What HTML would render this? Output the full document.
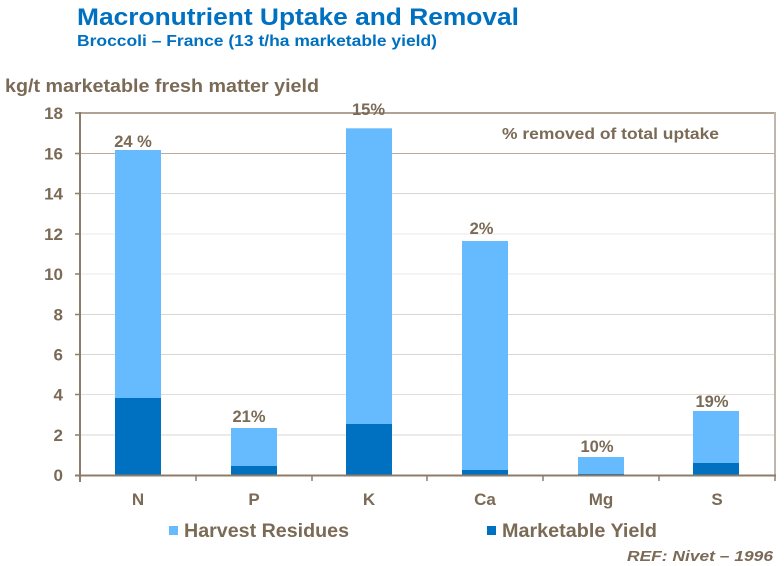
<!DOCTYPE html>
<html><head><meta charset="utf-8"><style>
html,body{margin:0;padding:0;background:#fff;}
svg{display:block;font-family:"Liberation Sans",Arial,sans-serif;}
</style></head><body>
<svg width="784" height="566" viewBox="0 0 784 566" xmlns="http://www.w3.org/2000/svg">
<!-- titles -->
<text x="77" y="25" font-size="24" font-weight="bold" fill="#0070c0" textLength="442" lengthAdjust="spacingAndGlyphs">Macronutrient Uptake and Removal</text>
<text x="77" y="46" font-size="16" font-weight="bold" fill="#0070c0" textLength="360" lengthAdjust="spacingAndGlyphs">Broccoli – France (13 t/ha marketable yield)</text>
<text x="5" y="92" font-size="18" font-weight="bold" fill="#7a6a56" textLength="314" lengthAdjust="spacingAndGlyphs">kg/t marketable fresh matter yield</text>

<!-- gridlines -->
<g stroke="#dcd6d0" stroke-width="1">
<line x1="80" y1="153.5" x2="775" y2="153.5" stroke="#b8ab9e"/>
<line x1="80" y1="193.5" x2="775" y2="193.5"/>
<line x1="80" y1="234" x2="775" y2="234" stroke="#ece8e4"/>
<line x1="80" y1="274" x2="775" y2="274" stroke="#ece8e4"/>
<line x1="80" y1="314.5" x2="775" y2="314.5"/>
<line x1="80" y1="354.5" x2="775" y2="354.5"/>
<line x1="80" y1="394.5" x2="775" y2="394.5" stroke="#e4dfda"/>
<line x1="80" y1="435" x2="775" y2="435"/>
</g>
<!-- frame -->
<line x1="80" y1="113" x2="775" y2="113" stroke="#b0a396" stroke-width="2"/>
<line x1="775" y1="112" x2="775" y2="476" stroke="#c0b6ac" stroke-width="2"/>

<!-- bars -->
<g fill="#66bbff">
<rect x="115" y="150" width="46" height="325"/>
<rect x="231" y="428" width="46" height="47"/>
<rect x="346" y="128.3" width="46" height="346.7"/>
<rect x="462" y="241" width="46" height="234"/>
<rect x="578" y="457" width="46" height="18"/>
<rect x="693" y="411" width="46" height="64"/>
</g>
<g fill="#0070c0">
<rect x="115" y="398" width="46" height="77"/>
<rect x="231" y="466" width="46" height="9"/>
<rect x="346" y="424" width="46" height="51"/>
<rect x="462" y="470" width="46" height="5"/>
<rect x="578" y="474" width="46" height="1"/>
<rect x="693" y="463" width="46" height="12"/>
</g>

<!-- axes -->
<line x1="80" y1="112" x2="80" y2="482" stroke="#8c7c6a" stroke-width="2"/>
<line x1="75" y1="475.5" x2="776" y2="475.5" stroke="#8c7c6a" stroke-width="2"/>
<g stroke="#8c7c6a" stroke-width="1.5">
<line x1="75" y1="113" x2="80" y2="113"/>
<line x1="75" y1="153.5" x2="80" y2="153.5"/>
<line x1="75" y1="193.5" x2="80" y2="193.5"/>
<line x1="75" y1="234" x2="80" y2="234"/>
<line x1="75" y1="274" x2="80" y2="274"/>
<line x1="75" y1="314.5" x2="80" y2="314.5"/>
<line x1="75" y1="354.5" x2="80" y2="354.5"/>
<line x1="75" y1="394.5" x2="80" y2="394.5"/>
<line x1="75" y1="435" x2="80" y2="435"/>
<line x1="196" y1="475" x2="196" y2="481"/>
<line x1="312" y1="475" x2="312" y2="481"/>
<line x1="427" y1="475" x2="427" y2="481"/>
<line x1="543" y1="475" x2="543" y2="481"/>
<line x1="659" y1="475" x2="659" y2="481"/>
<line x1="775" y1="475" x2="775" y2="481"/>
</g>

<!-- y tick labels -->
<g font-size="17" font-weight="bold" fill="#7a6a56" text-anchor="end">
<text x="63" y="119">18</text>
<text x="63" y="159.5">16</text>
<text x="63" y="199.5">14</text>
<text x="63" y="240">12</text>
<text x="63" y="280">10</text>
<text x="63" y="320.5">8</text>
<text x="63" y="360.5">6</text>
<text x="63" y="400.5">4</text>
<text x="63" y="441">2</text>
<text x="63" y="481">0</text>
</g>

<!-- category labels -->
<g font-size="17" font-weight="bold" fill="#7a6a56" text-anchor="middle">
<text x="138" y="505">N</text>
<text x="254" y="505">P</text>
<text x="369" y="505">K</text>
<text x="485" y="505">Ca</text>
<text x="601" y="505">Mg</text>
<text x="717" y="505">S</text>
</g>

<!-- percent labels -->
<g font-size="16.5" font-weight="bold" fill="#7a6a56" text-anchor="middle">
<text x="133" y="147">24 %</text>
<text x="249" y="422">21%</text>
<text x="368.5" y="115">15%</text>
<text x="481.5" y="234">2%</text>
<text x="597" y="452">10%</text>
<text x="712" y="407">19%</text>
</g>
<text x="502" y="139" font-size="15.5" font-weight="bold" fill="#7a6a56" textLength="217" lengthAdjust="spacingAndGlyphs">% removed of total uptake</text>

<!-- legend -->
<rect x="169" y="526" width="9" height="9" fill="#66bbff"/>
<text x="184" y="537" font-size="19" font-weight="bold" fill="#7a6a56" textLength="165" lengthAdjust="spacingAndGlyphs">Harvest Residues</text>
<rect x="487" y="526" width="9" height="9" fill="#0070c0"/>
<text x="502" y="537" font-size="19" font-weight="bold" fill="#7a6a56" textLength="155" lengthAdjust="spacingAndGlyphs">Marketable Yield</text>

<text x="773" y="561" font-size="15" font-weight="bold" font-style="italic" fill="#7a6a56" text-anchor="end" textLength="146" lengthAdjust="spacingAndGlyphs">REF: Nivet – 1996</text>
</svg>
</body></html>
